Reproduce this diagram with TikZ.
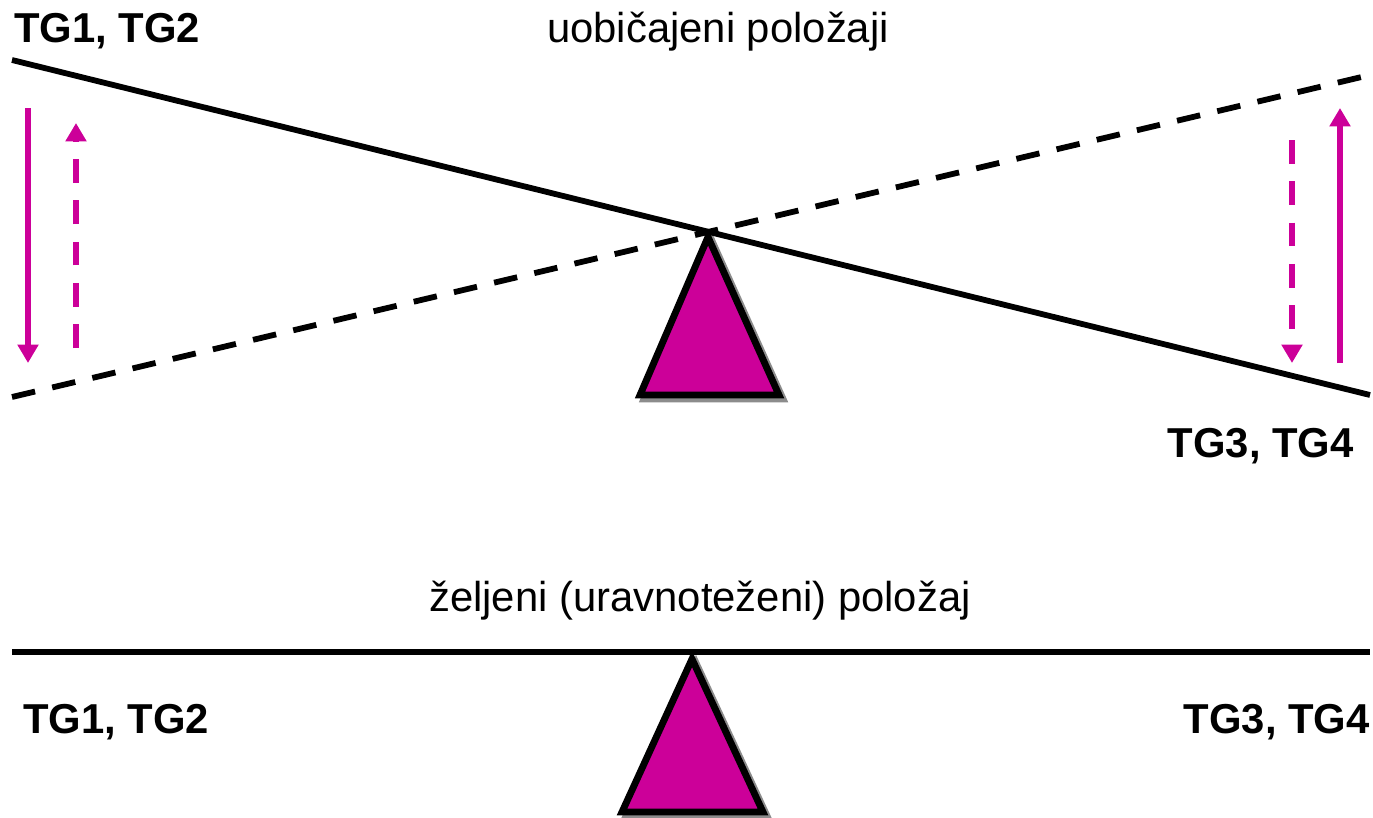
\documentclass[tikz,border=0pt]{standalone}
\usepackage{fontspec}
\setmainfont{Liberation Sans}
\usetikzlibrary{arrows.meta}
\definecolor{tgmag}{HTML}{CC0099}
\definecolor{tgshadow}{HTML}{8C8C8C}

\begin{document}
\begin{tikzpicture}[x=0.02cm, y=-0.02cm,
    beam/.style={line width=3.3pt, black},
    swing/.style={beam, dash pattern=on 13.5pt off 10pt},
    lbl/.style={font=\fontsize{23.8}{28}\selectfont, inner sep=0pt},
    tglbl/.style={inner sep=0pt, font=\fontsize{23.8}{28}\selectfont\bfseries},
    move/.style={-{Triangle[length=10.5pt, width=11.5pt]}, line width=3.2pt, tgmag},
    dmove/.style={move, dash pattern=on 13.5pt off 10pt},
    pivot/.style={fill=tgmag, draw=black, line width=3.9pt, line join=miter},
    pivotshadow/.style={fill=tgshadow, draw=tgshadow, line width=3.9pt, line join=miter}]
    \useasboundingbox (0,0) rectangle (1373,818);

    % usual positions
    \coordinate (top1) at (708,237);
    \draw[pivotshadow, shift={(4,4)}] (708,237) -- (640,395) -- (779,395) -- cycle;
    \draw[pivot] (top1) -- (640,395) -- (779,395) -- cycle;

    \coordinate (solidL) at (12,60);
    \coordinate (solidR) at (1370,395);
    \coordinate (dashL) at (12,397);
    \coordinate (dashR) at (1370,75);
    \draw[beam] (solidL) -- (solidR);
    \draw[swing] (dashL) -- (dashR);

    \coordinate (a1) at (28,108);
    \coordinate (a2) at (28,363);
    \coordinate (b1) at (76,348);
    \coordinate (b2) at (76,123);
    \coordinate (c1) at (1292,140);
    \coordinate (c2) at (1292,363);
    \coordinate (d1) at (1340,363);
    \coordinate (d2) at (1340,108);
    \draw[move] (a1) -- (a2);
    \draw[dmove] (b1) -- (b2);
    \draw[dmove] (c1) -- (c2);
    \draw[move] (d1) -- (d2);

    \node[tglbl, anchor=base west] (tgA) at (14,42) {TG1, TG2};
    \node[tglbl, anchor=base east] (tgB) at (1354,457) {TG3, TG4};
    \node[lbl, anchor=base] (usual) at (718,42) {uobičajeni položaji};

    % desired position
    \coordinate (top2) at (692,659);
    \draw[pivotshadow, shift={(4,4)}] (692,659) -- (622,812) -- (763,812) -- cycle;
    \draw[pivot] (top2) -- (622,812) -- (763,812) -- cycle;

    \coordinate (flatL) at (12,652);
    \coordinate (flatR) at (1370,652);
    \draw[beam] (flatL) -- (flatR);

    \node[lbl, anchor=base] (wanted) at (700,611) {željeni (uravnoteženi) položaj};
    \node[tglbl, anchor=base west] (tgC) at (23,733) {TG1, TG2};
    \node[tglbl, anchor=base east] (tgD) at (1370,733) {TG3, TG4};
\end{tikzpicture}
\end{document}
